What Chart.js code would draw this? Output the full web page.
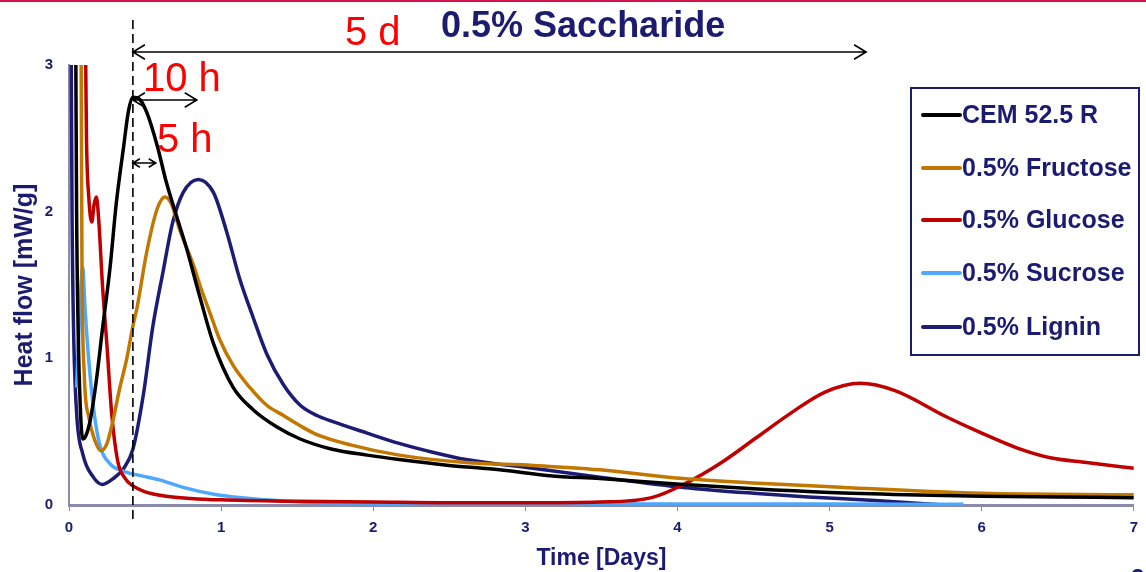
<!DOCTYPE html>
<html>
<head>
<meta charset="utf-8">
<script src="https://cdn.jsdelivr.net/npm/chart.js@4.4.1/dist/chart.umd.min.js"></script>
<style>
  html, body { margin: 0; padding: 0; background: #fff; }
  #wrap { width: 1146px; height: 572px; }
</style>
</head>
<body>
<div id="wrap"><canvas id="heatChart" width="1146" height="572"></canvas></div>
<script>
// Heat flow vs. time
const seriesNames = ['CEM 52.5 R', '0.5% Fructose', '0.5% Glucose', '0.5% Sucrose', '0.5% Lignin'];
const seriesColors = ['#000000', '#c27800', '#c00000', '#4da8ff', '#1c1c74'];

const cemDays = [0.045, 0.05, 0.06, 0.075, 0.09, 0.11, 0.14, 0.18, 0.22, 0.27, 0.31, 0.36, 0.39, 0.42, 0.46, 0.51, 0.58, 0.64, 0.71, 0.77, 0.86, 0.95, 1.08, 1.21, 1.37, 1.52, 1.73, 1.96, 2.17, 2.5, 2.83, 3.16, 3.49, 4.04, 4.5, 5.0, 5.5, 6.0, 6.5, 7.0];
const cemFlow = [3.0, 2.0, 1.2, 0.65, 0.45, 0.47, 0.58, 0.85, 1.2, 1.62, 2.05, 2.45, 2.68, 2.78, 2.77, 2.68, 2.45, 2.2, 1.96, 1.76, 1.42, 1.1, 0.8, 0.65, 0.53, 0.45, 0.38, 0.34, 0.31, 0.27, 0.24, 0.2, 0.18, 0.14, 0.11, 0.085, 0.07, 0.06, 0.055, 0.05];

const fruDays = [0.08, 0.085, 0.1, 0.13, 0.17, 0.21, 0.25, 0.29, 0.33, 0.38, 0.42, 0.45, 0.51, 0.58, 0.63, 0.67, 0.73, 0.82, 0.86, 0.93, 0.99, 1.08, 1.19, 1.3, 1.41, 1.52, 1.63, 1.85, 2.17, 2.61, 3.05, 3.49, 4.04, 4.5, 5.09, 6.0, 7.0];
const fruFlow = [3.0, 1.7, 0.9, 0.6, 0.44, 0.37, 0.42, 0.58, 0.78, 1.0, 1.22, 1.36, 1.72, 2.02, 2.1, 2.06, 1.87, 1.63, 1.5, 1.3, 1.13, 0.95, 0.8, 0.68, 0.61, 0.54, 0.48, 0.41, 0.34, 0.29, 0.27, 0.24, 0.18, 0.15, 0.12, 0.08, 0.07];

const gluDays = [0.11, 0.115, 0.13, 0.15, 0.165, 0.18, 0.195, 0.22, 0.25, 0.28, 0.32, 0.37, 0.42, 0.5, 0.64, 0.8, 1.0, 1.5, 2.0, 2.5, 3.0, 3.49, 3.83, 4.04, 4.29, 4.52, 4.75, 4.97, 5.2, 5.43, 5.77, 6.0, 6.23, 6.46, 6.69, 7.0];
const gluFlow = [3.0, 2.5, 2.1, 1.93, 2.05, 2.1, 1.95, 1.5, 1.08, 0.63, 0.3, 0.18, 0.13, 0.09, 0.06, 0.045, 0.035, 0.025, 0.02, 0.015, 0.015, 0.02, 0.05, 0.14, 0.29, 0.46, 0.63, 0.77, 0.83, 0.78, 0.6, 0.49, 0.39, 0.32, 0.29, 0.25];

const sucDays = [0.05, 0.07, 0.09, 0.105, 0.125, 0.16, 0.2, 0.27, 0.36, 0.47, 0.6, 0.75, 0.97, 1.3, 1.52, 2.0, 3.0, 4.0, 5.0, 5.88];
const sucFlow = [0.8, 1.3, 1.62, 1.35, 1.05, 0.67, 0.42, 0.28, 0.23, 0.2, 0.17, 0.12, 0.07, 0.035, 0.02, 0.012, 0.008, 0.007, 0.006, 0.005];

const ligDays = [0.015, 0.02, 0.03, 0.05, 0.09, 0.16, 0.22, 0.29, 0.36, 0.42, 0.49, 0.55, 0.62, 0.68, 0.75, 0.85, 0.95, 1.04, 1.12, 1.21, 1.3, 1.41, 1.52, 1.63, 1.73, 1.96, 2.17, 2.39, 2.61, 3.05, 3.49, 4.04, 4.5, 4.86, 5.3, 5.75];
const ligFlow = [3.0, 2.0, 1.2, 0.63, 0.35, 0.19, 0.14, 0.18, 0.25, 0.38, 0.76, 1.21, 1.6, 1.92, 2.13, 2.22, 2.13, 1.85, 1.55, 1.28, 1.03, 0.82, 0.68, 0.61, 0.57, 0.49, 0.42, 0.36, 0.31, 0.25, 0.19, 0.12, 0.08, 0.055, 0.03, 0.0];

const xTicks = [0, 1, 2, 3, 4, 5, 6, 7];
const yTicks = [0, 1, 2, 3];

const NAVY = '#1b1b70';
const AXIS = '#8a8aaa';
const FONT = '"Liberation Sans", Arial, sans-serif';

function toPoints(days, flow) {
    return days.map((d, i) => ({ x: d, y: flow[i] }));
}

const allDays = [cemDays, fruDays, gluDays, sucDays, ligDays];
const allFlow = [cemFlow, fruFlow, gluFlow, sucFlow, ligFlow];

// arrows, labels, legend box
const overlayPlugin = {
    id: 'overlay',
    afterDraw(chart) {
        const ctx = chart.ctx;
        const xs = chart.scales.x;
        ctx.save();

        // thin crimson rule at the very top
        ctx.fillStyle = '#d4134d';
        ctx.fillRect(0, 0, chart.width, 2);

        const peakX = xs.getPixelForValue(0.42);

        // dashed marker through the reference peak
        ctx.strokeStyle = '#000';
        ctx.lineWidth = 1.6;
        ctx.setLineDash([9, 5]);
        ctx.beginPath();
        ctx.moveTo(peakX, 20);
        ctx.lineTo(peakX, 520);
        ctx.stroke();
        ctx.setLineDash([]);

        function arrow(x1, x2, y, head) {
            ctx.lineWidth = 1.6;
            ctx.beginPath();
            ctx.moveTo(x1, y);
            ctx.lineTo(x2, y);
            ctx.moveTo(x1 + head, y - head * 0.6);
            ctx.lineTo(x1, y);
            ctx.lineTo(x1 + head, y + head * 0.6);
            ctx.moveTo(x2 - head, y - head * 0.6);
            ctx.lineTo(x2, y);
            ctx.lineTo(x2 - head, y + head * 0.6);
            ctx.stroke();
        }
        arrow(peakX, xs.getPixelForValue(5.24), 52, 12);
        arrow(peakX, xs.getPixelForValue(0.84), 100, 12);
        arrow(peakX, xs.getPixelForValue(0.57), 163, 7);

        ctx.fillStyle = '#ff0000';
        ctx.font = '40px ' + FONT;
        ctx.textBaseline = 'alphabetic';
        ctx.textAlign = 'left';
        ctx.fillText('5 d', 345, 45);
        ctx.fillText('10 h', 143, 91);
        ctx.fillText('5 h', 157, 152);

        ctx.fillStyle = NAVY;
        ctx.font = 'bold 36px ' + FONT;
        ctx.fillText('0.5% Saccharide', 441, 37);

        // legend
        const box = { l: 911, t: 88, r: 1139, b: 355 };
        ctx.fillStyle = '#fff';
        ctx.fillRect(box.l, box.t, box.r - box.l, box.b - box.t);
        ctx.strokeStyle = NAVY;
        ctx.lineWidth = 2;
        ctx.strokeRect(box.l, box.t, box.r - box.l, box.b - box.t);
        const rows = [115, 168, 220, 273, 327];
        ctx.font = 'bold 25px ' + FONT;
        ctx.textBaseline = 'middle';
        chart.data.datasets.forEach((ds, i) => {
            ctx.strokeStyle = ds.borderColor;
            ctx.lineWidth = 4;
            ctx.lineCap = 'round';
            ctx.beginPath();
            ctx.moveTo(923, rows[i]);
            ctx.lineTo(960, rows[i]);
            ctx.stroke();
            ctx.fillStyle = NAVY;
            ctx.fillText(ds.label, 962, rows[i] + 1);
        });

        // cut-off slide number at the bottom corner
        ctx.font = 'bold 24px ' + FONT;
        ctx.textBaseline = 'alphabetic';
        ctx.fillText('2', 1131, 586);

        ctx.restore();
    }
};

new Chart(document.getElementById('heatChart'), {
    type: 'line',
    data: {
        datasets: seriesNames.map((name, i) => ({
            label: name,
            data: toPoints(allDays[i], allFlow[i]),
            borderColor: seriesColors[i],
            backgroundColor: seriesColors[i],
            borderWidth: 3.5,
            pointRadius: 0,
            cubicInterpolationMode: 'monotone',
            fill: false
        }))
    },
    options: {
        responsive: false,
        animation: false,
        layout: { padding: { top: 65, right: 11, left: 0, bottom: 0 } },
        plugins: {
            legend: { display: false },
            tooltip: { enabled: false }
        },
        scales: {
            x: {
                type: 'linear',
                min: 0,
                max: 7,
                afterBuildTicks: s => { s.ticks = xTicks.map(v => ({ value: v })); },
                afterFit: s => { s.height = 67; },
                ticks: { color: NAVY, font: { family: FONT, size: 15, weight: 'bold' }, padding: 8 },
                grid: { display: true, drawOnChartArea: false, drawTicks: true, tickLength: 6, color: AXIS },
                border: { display: true, color: AXIS, width: 3 },
                title: { display: true, text: 'Time [Days]', color: NAVY, font: { family: FONT, size: 23, weight: 'bold' }, padding: { top: 0, bottom: 0 } }
            },
            y: {
                min: 0,
                max: 3,
                afterBuildTicks: s => { s.ticks = yTicks.map(v => ({ value: v })); },
                afterFit: s => { s.width = 69; },
                ticks: { color: NAVY, font: { family: FONT, size: 15, weight: 'bold' }, padding: 16 },
                grid: { display: true, drawOnChartArea: false, drawTicks: false, color: AXIS },
                border: { display: true, color: AXIS, width: 2 },
                title: { display: true, text: 'Heat flow [mW/g]', color: NAVY, font: { family: FONT, size: 25, weight: 'bold' }, padding: { top: 10, bottom: 0 } }
            }
        }
    },
    plugins: [overlayPlugin]
});
</script>
</body>
</html>
